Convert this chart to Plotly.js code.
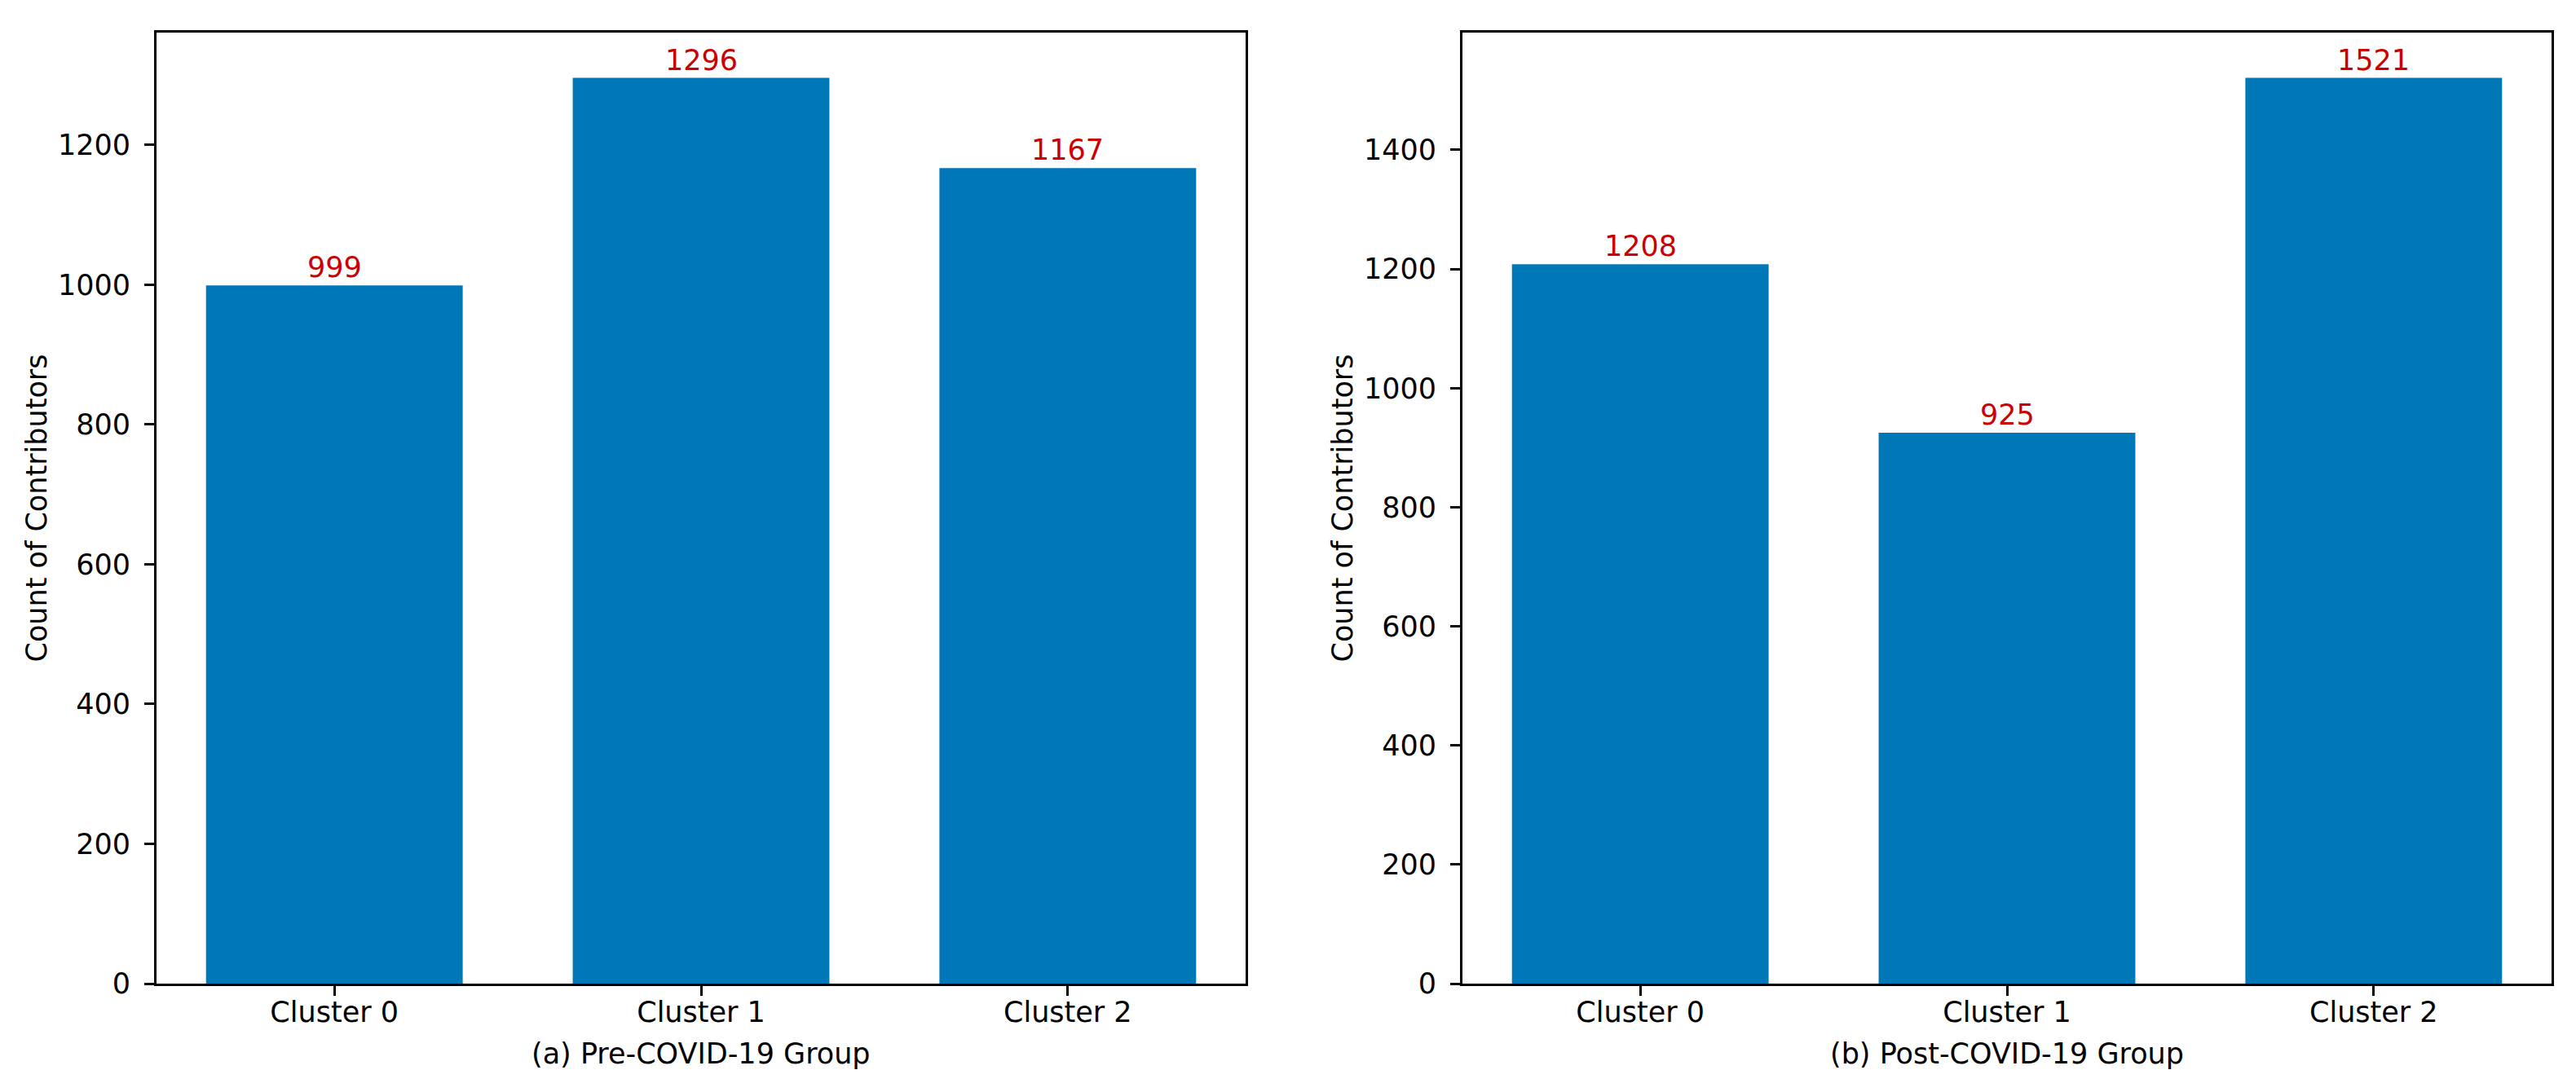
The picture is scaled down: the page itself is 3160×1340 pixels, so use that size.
<!DOCTYPE html>
<html>
<head>
<meta charset="utf-8">
<script src="https://cdn.plot.ly/plotly-3.0.1.min.js"></script>
<style>html,body{margin:0;padding:0;background:#fff;}#chart{width:3160px;height:1340px;}</style>
</head>
<body>
<div id="chart"></div>
<script>
const categories = ["Cluster 0", "Cluster 1", "Cluster 2"];
const preCovidCounts = [999, 1296, 1167];
const postCovidCounts = [1208, 925, 1521];
const preTitle = "(a) Pre-COVID-19 Group";
const postTitle = "(b) Post-COVID-19 Group";
const yTitle = "Count of Contributors";
const preTicks = [0, 200, 400, 600, 800, 1000, 1200];
const postTicks = [0, 200, 400, 600, 800, 1000, 1200, 1400];

const W = 3160, H = 1340;
const barColor = "#0077b6";
const labelColor = "#cc0000";
const font = "DejaVu Sans, sans-serif";
const fs = 35;

const xd1 = [192 / W, 1528 / W];
const xd2 = [1794 / W, 3130 / W];
const yd = [1 - 1207 / H, 1 - 40 / H];

function axisCommon() {
  return {
    showline: true, mirror: true, linecolor: "#000", linewidth: 3,
    ticks: "outside", ticklen: 12, tickwidth: 3, tickcolor: "#000",
    showgrid: false, zeroline: false,
    tickfont: {family: font, size: fs, color: "#000"},
    automargin: false
  };
}

const traces = [
  {type: "bar", x: categories, y: preCovidCounts, width: 0.7, marker: {color: barColor, line: {width: 0}}, xaxis: "x", yaxis: "y", hoverinfo: "none"},
  {type: "bar", x: categories, y: postCovidCounts, width: 0.7, marker: {color: barColor, line: {width: 0}}, xaxis: "x2", yaxis: "y2", hoverinfo: "none"}
];

const annotations = [];
categories.forEach((c, i) => {
  annotations.push({x: c, y: preCovidCounts[i], xref: "x", yref: "y", text: String(preCovidCounts[i]), showarrow: false, yanchor: "bottom", xanchor: "center", font: {family: font, size: fs, color: labelColor}, yshift: 0});
  annotations.push({x: c, y: postCovidCounts[i], xref: "x2", yref: "y2", text: String(postCovidCounts[i]), showarrow: false, yanchor: "bottom", xanchor: "center", font: {family: font, size: fs, color: labelColor}, yshift: 0});
});
annotations.push({x: (xd1[0] + xd1[1]) / 2, y: 1 - 1293 / H, xref: "paper", yref: "paper", text: preTitle, showarrow: false, xanchor: "center", yanchor: "middle", font: {family: font, size: fs, color: "#000"}});
annotations.push({x: (xd2[0] + xd2[1]) / 2, y: 1 - 1293 / H, xref: "paper", yref: "paper", text: postTitle, showarrow: false, xanchor: "center", yanchor: "middle", font: {family: font, size: fs, color: "#000"}});
annotations.push({x: 44 / W, y: (yd[0] + yd[1]) / 2, xref: "paper", yref: "paper", text: yTitle, textangle: -90, showarrow: false, xanchor: "center", yanchor: "middle", font: {family: font, size: fs, color: "#000"}});
annotations.push({x: 1646 / W, y: (yd[0] + yd[1]) / 2, xref: "paper", yref: "paper", text: yTitle, textangle: -90, showarrow: false, xanchor: "center", yanchor: "middle", font: {family: font, size: fs, color: "#000"}});

const layout = {
  width: W, height: H,
  margin: {l: 0, r: 0, t: 0, b: 0, pad: 0},
  paper_bgcolor: "#fff", plot_bgcolor: "#fff",
  showlegend: false,
  xaxis: Object.assign(axisCommon(), {domain: xd1, anchor: "y", type: "category", range: [-0.485, 2.485], ticklabelstandoff: -10}),
  yaxis: Object.assign(axisCommon(), {domain: yd, anchor: "x", range: [0, Math.max(...preCovidCounts) * 1.05], tickvals: preTicks, ticktext: preTicks.map(String), ticklabelstandoff: 10}),
  xaxis2: Object.assign(axisCommon(), {domain: xd2, anchor: "y2", type: "category", range: [-0.485, 2.485], ticklabelstandoff: -10}),
  yaxis2: Object.assign(axisCommon(), {domain: yd, anchor: "x2", range: [0, Math.max(...postCovidCounts) * 1.05], tickvals: postTicks, ticktext: postTicks.map(String), ticklabelstandoff: 10}),
  annotations: annotations
};

Plotly.newPlot("chart", traces, layout, {staticPlot: true, displayModeBar: false});
</script>
</body>
</html>
